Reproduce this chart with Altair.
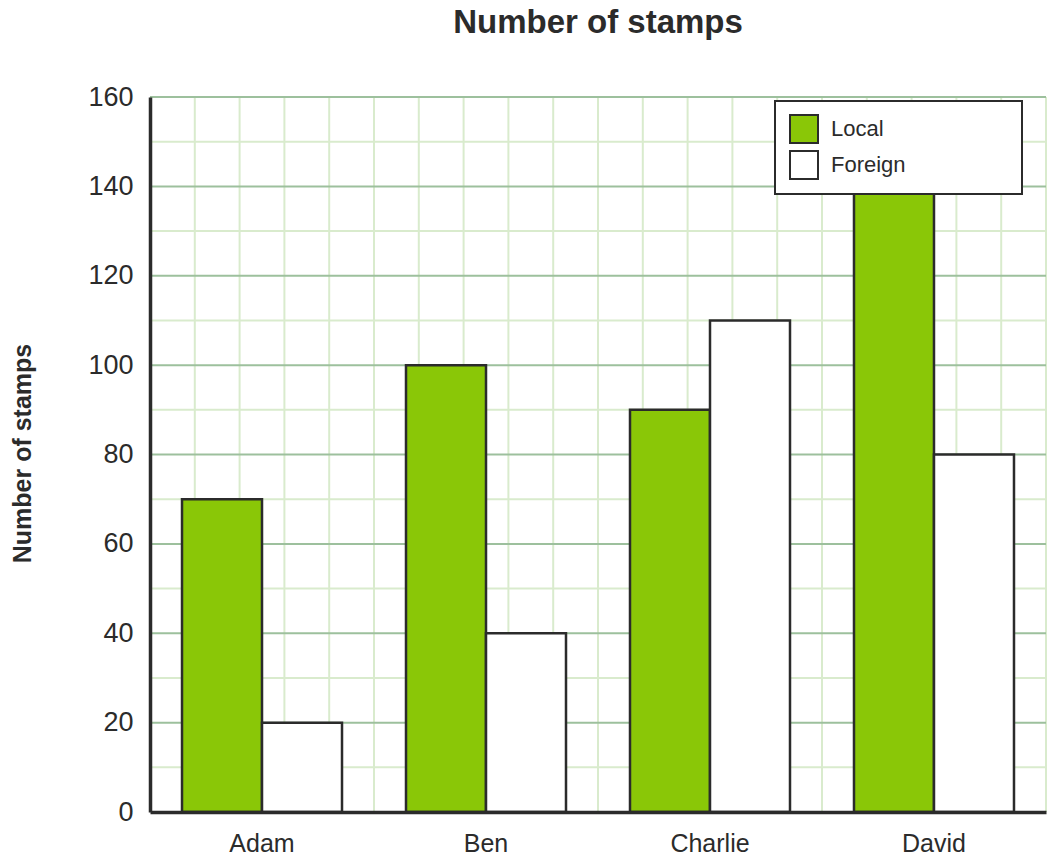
import altair as alt
import pandas as pd

names = ["Adam", "Ben", "Charlie", "David"]
series = ["Local", "Foreign"]
local = [70, 100, 90, 150]
foreign = [20, 40, 110, 80]
y_ticks = [0, 20, 40, 60, 80, 100, 120, 140, 160]
y_minor = [10, 30, 50, 70, 90, 110, 130, 150]
y_major = [20, 40, 60, 80, 100, 120, 140, 160]
x_grid = list(range(1, 21))

rows = []
for n, l, f in zip(names, local, foreign):
    rows.append({"name": n, "type": "Local", "v": l})
    rows.append({"name": n, "type": "Foreign", "v": f})
bars_df = pd.DataFrame(rows)

W, H = 896, 715
INK = "#2b2b2b"
GREEN = "#8ac707"
MINOR = "#d9ebcd"
MAJOR = "#9dc09d"
FONT = "Liberation Sans"

y_scale = alt.Scale(domain=[0, 160], nice=False, zero=True)
y_axis = alt.Axis(
    values=y_ticks,
    title="Number of stamps",
    titleFontSize=25,
    titleFontWeight="bold",
    titleColor=INK,
    titleFont=FONT,
    titleAngle=-90,
    titleX=-128,
    titleY=356,
    titleAlign="center",
    titleBaseline="middle",
    ticks=False,
    grid=False,
    domainColor=INK,
    domainWidth=3.5,
    labelFontSize=27,
    labelFont=FONT,
    labelColor=INK,
    labelPadding=17,
    zindex=1,
)

vgrid = alt.Chart(pd.DataFrame({"g": x_grid})).mark_rule(
    color=MINOR, strokeWidth=2
).encode(
    x=alt.X("g:Q", scale=alt.Scale(domain=[0, 20], nice=False, zero=True), axis=None)
)

hminor = alt.Chart(pd.DataFrame({"v": y_minor})).mark_rule(
    color=MINOR, strokeWidth=2
).encode(y=alt.Y("v:Q", scale=y_scale, axis=y_axis))

hmajor = alt.Chart(pd.DataFrame({"v": y_major})).mark_rule(
    color=MAJOR, strokeWidth=2
).encode(y=alt.Y("v:Q", scale=y_scale, axis=y_axis))

bars = alt.Chart(bars_df).mark_bar(stroke=INK, strokeWidth=2.5).encode(
    x=alt.X(
        "name:N",
        sort=names,
        scale=alt.Scale(paddingInner=0.2857, paddingOuter=0.1429),
        axis=alt.Axis(
            title=None,
            labelAngle=0,
            ticks=False,
            grid=False,
            domainColor=INK,
            domainWidth=3.5,
            labelFontSize=25,
            labelFont=FONT,
            labelColor=INK,
            labelPadding=19,
            zindex=1,
        ),
    ),
    xOffset=alt.XOffset(
        "type:N", sort=series, scale=alt.Scale(paddingInner=0, paddingOuter=0)
    ),
    y=alt.Y("v:Q", scale=y_scale, axis=y_axis),
    color=alt.Color(
        "type:N",
        sort=series,
        scale=alt.Scale(domain=series, range=[GREEN, "#ffffff"]),
        legend=alt.Legend(
            orient="none",
            legendX=625,
            legendY=4,
            # invisible spacer title: only widens the legend box
            title="m" * 126,
            titleFontSize=2,
            titleOpacity=0,
            titlePadding=0,
            titleLimit=3000,
            padding=11,
            symbolOffset=3,
            fillColor="#ffffff",
            strokeColor=INK,
            symbolType="square",
            symbolSize=784,
            symbolStrokeColor=INK,
            symbolStrokeWidth=2,
            symbolOpacity=1,
            labelFontSize=22,
            labelFont=FONT,
            labelColor=INK,
            labelOffset=12,
            rowPadding=0,
        ),
    ),
)

chart = (
    alt.layer(vgrid, hminor, hmajor, bars)
    .resolve_scale(x="independent")
    .properties(
        width=W,
        height=H,
        autosize=alt.AutoSizeParams(type="none"),
        padding={"left": 142, "top": 89, "right": 1, "bottom": 45},
        title=alt.TitleParams(
            "Number of stamps",
            fontSize=33,
            fontWeight="bold",
            font=FONT,
            color=INK,
            anchor="middle",
            offset=43,
        ),
    )
    .configure_view(stroke=None)
    .configure_legend(strokeWidth=2)
)

chart.save("out.html", embed_options={"renderer": "svg", "actions": False})
